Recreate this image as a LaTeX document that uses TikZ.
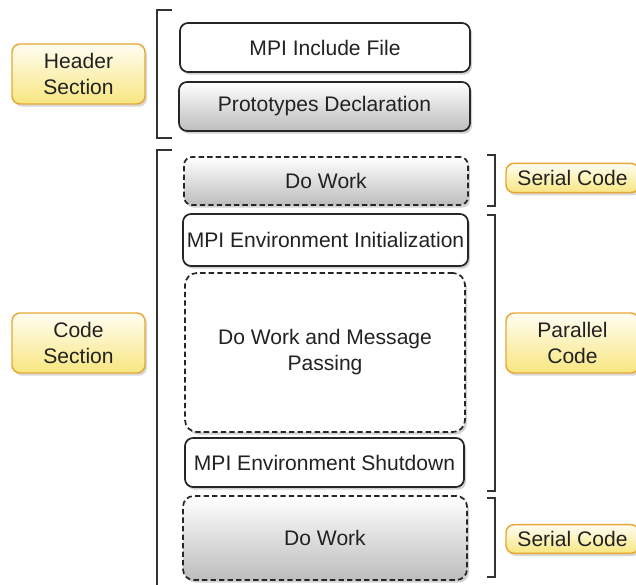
\documentclass[tikz,border=0pt]{standalone}
\usepackage{fontspec}
\setmainfont{Liberation Sans}
\usetikzlibrary{shadows}
\definecolor{txt}{HTML}{222222}
\definecolor{edge}{HTML}{262626}
\definecolor{labedge}{HTML}{E8A735}
\definecolor{labtop}{HTML}{FFFDF2}
\definecolor{labbot}{HTML}{F8E680}
\tikzset{
  box/.style={draw=edge, line width=1.3pt, rounded corners=6pt, fill=white,
    text=txt, font=\fontsize{15.8}{19.5}\selectfont, align=center, inner sep=0pt,
    drop shadow={shadow xshift=1.5pt, shadow yshift=-2pt, opacity=0.3, fill=black!60}},
  grad/.style={top color=white, bottom color=black!26},
  dbox/.style={dash pattern=on 4pt off 2.4pt},
  lab/.style={draw=labedge, line width=1.1pt, rounded corners=6pt,
    top color=labtop, bottom color=labbot, text=txt,
    font=\fontsize{15.8}{19}\selectfont, align=center, inner sep=0pt,
    minimum width=99.75pt,
    drop shadow={shadow xshift=1.5pt, shadow yshift=-2pt, opacity=0.25, fill=black!60}},
  brk/.style={draw=black!80, line width=0.9pt}
}
\begin{document}
\begin{tikzpicture}[x=0.75pt,y=-0.75pt]
\useasboundingbox (0,0) rectangle (636,585);
% main boxes
\node[box, minimum width=217.5pt, minimum height=36.75pt] (inc) at (325,47.5) {MPI Include File};
\node[box, grad, minimum width=218.25pt, minimum height=36.75pt] (proto) at (324.5,106.5) {Prototypes Declaration};
\node[box, grad, dbox, minimum width=213pt, minimum height=36pt] (work1) at (326,181) {Do Work};
\node[box, minimum width=213.75pt, minimum height=39pt] (init) at (325.5,240) {MPI Environment Initialization};
\node[box, dbox, rounded corners=9pt, minimum width=210pt, minimum height=119.25pt] (msg) at (325,352.5) {Do Work and Message\\Passing};
\node[box, minimum width=209.25pt, minimum height=36.75pt] (shut) at (324.5,462.5) {MPI Environment Shutdown};
\node[box, grad, dbox, rounded corners=8pt, minimum width=213pt, minimum height=63pt] (work2) at (325,538) {Do Work};
% labels
\node[lab, minimum height=45pt] (hdr) at (78.5,74) {Header\\Section};
\node[lab, minimum height=45pt] (code) at (78.5,343) {Code\\Section};
\node[lab, minimum height=22pt] (ser1) at (572.5,178) {Serial Code};
\node[lab, minimum height=45pt] (par) at (572.5,343) {Parallel\\Code};
\node[lab, minimum height=21.5pt] (ser2) at (572.5,539) {Serial Code};
% brackets
\draw[brk] (172,10) -- (157,10) -- (157,138) -- (172,138);
\draw[brk] (172,150) -- (157,150) -- (157,592);
\draw[brk] (487,155) -- (495,155) -- (495,206) -- (487,206);
\draw[brk] (487,215) -- (495,215) -- (495,491) -- (487,491);
\draw[brk] (487,498) -- (495,498) -- (495,577) -- (487,577);
\end{tikzpicture}
\end{document}
